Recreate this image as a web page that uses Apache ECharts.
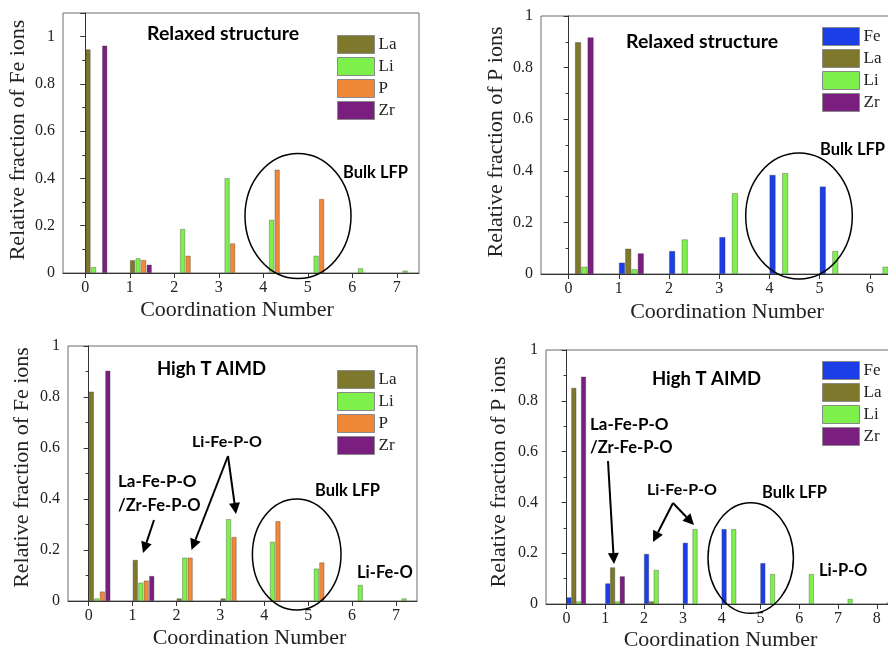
<!DOCTYPE html>
<html><head><meta charset="utf-8">
<script src="https://cdn.jsdelivr.net/npm/echarts@6/dist/echarts.min.js"></script>
<style>html,body{margin:0;padding:0;background:#fff}#c{width:888px;height:652px}</style>
</head><body><div id="c"></div>
<script>
// Coordination numbers (x categories)
const coordinationNumbers = [0, 1, 2, 3, 4, 5, 6, 7, 8];

// Panel 1: Fe ions, relaxed structure
const feRelaxLa = [0.946, 0.054, 0, 0, 0, 0, 0, 0, 0];
const feRelaxLi = [0.025, 0.062, 0.186, 0.401, 0.225, 0.073, 0.020, 0.010, 0];
const feRelaxP  = [0, 0.055, 0.073, 0.125, 0.437, 0.313, 0, 0, 0];
const feRelaxZr = [0.962, 0.035, 0, 0, 0, 0, 0, 0, 0];

// Panel 2: P ions, relaxed structure
const pRelaxFe = [0, 0.044, 0.089, 0.143, 0.384, 0.339, 0, 0, 0];
const pRelaxLa = [0.898, 0.098, 0, 0, 0, 0, 0, 0, 0];
const pRelaxLi = [0.028, 0.018, 0.134, 0.313, 0.391, 0.089, 0.028, 0, 0];
const pRelaxZr = [0.917, 0.080, 0, 0, 0, 0, 0, 0, 0];

// Panel 3: Fe ions, high T AIMD
const feAimdLa = [0.821, 0.161, 0.010, 0.010, 0, 0, 0, 0, 0];
const feAimdLi = [0.010, 0.072, 0.170, 0.321, 0.232, 0.127, 0.063, 0.010, 0];
const feAimdP  = [0.037, 0.080, 0.170, 0.251, 0.313, 0.151, 0, 0, 0];
const feAimdZr = [0.903, 0.098, 0, 0, 0, 0, 0, 0, 0];

// Panel 4: P ions, high T AIMD
const pAimdFe = [0.026, 0.081, 0.197, 0.241, 0.295, 0.161, 0, 0, 0];
const pAimdLa = [0.851, 0.144, 0.010, 0, 0, 0, 0, 0, 0];
const pAimdLi = [0.010, 0.010, 0.134, 0.295, 0.295, 0.118, 0.118, 0.020, 0.006];
const pAimdZr = [0.895, 0.109, 0, 0, 0, 0, 0, 0, 0];

const yTickValues = [0, 0.2, 0.4, 0.6, 0.8, 1];

const colors = { Fe: '#1c3ee6', La: '#7d782c', Li: '#7ef04c', P: '#f0883a', Zr: '#7a1f80' };

const panels = [
  { grid: { left: 63, top: 13, width: 356, height: 260 }, xMin: -0.5, xMax: 7.5, yMax: 1.1, barWidth: 5,
    yName: 'Relative fraction of Fe ions', yGap: 34, xGap: 26, xShift: -4, yShift: 3,
    legend: { left: 337, top: 35 },
    series: [['La', feRelaxLa], ['Li', feRelaxLi], ['P', feRelaxP], ['Zr', feRelaxZr]] },
  { grid: { left: 541, top: 16, width: 372, height: 258 }, xMin: -0.55, xMax: 6.86, yMax: 1, barWidth: 6,
    yName: 'Relative fraction of P ions', yGap: 34, xGap: 27, xShift: 0, yShift: 3,
    legend: { left: 822, top: 27 },
    series: [['Fe', pRelaxFe], ['La', pRelaxLa], ['Li', pRelaxLi], ['Zr', pRelaxZr]] },
  { grid: { left: 68, top: 346, width: 349, height: 255 }, xMin: -0.47, xMax: 7.48, yMax: 1, barWidth: 5,
    yName: 'Relative fraction of Fe ions', yGap: 35, xGap: 26, xShift: 7, yShift: 6,
    legend: { left: 337, top: 370 },
    series: [['La', feAimdLa], ['Li', feAimdLi], ['P', feAimdP], ['Zr', feAimdZr]] },
  { grid: { left: 546, top: 350, width: 349, height: 254 }, xMin: -0.53, xMax: 8.47, yMax: 1, barWidth: 5,
    yName: 'Relative fraction of P ions', yGap: 36, xGap: 25, xShift: 0, yShift: 5,
    legend: { left: 822, top: 361 },
    series: [['Fe', pAimdFe], ['La', pAimdLa], ['Li', pAimdLi], ['Zr', pAimdZr]] }
];

const serif = 'Liberation Serif';
const boldFont = 'Lato';

const grids = [], xAxes = [], yAxes = [], series = [], legends = [];
panels.forEach((p, i) => {
  grids.push(Object.assign({ show: true, borderColor: '#6a6a6a', borderWidth: 1, backgroundColor: 'transparent', containLabel: false, outerBoundsMode: 'none' }, p.grid));
  const xt = coordinationNumbers.filter(v => v >= p.xMin && v <= p.xMax);
  const xPad = p.xShift < 0 ? [0, -2 * p.xShift, 0, 0] : [0, 0, 0, 2 * p.xShift];
  xAxes.push({
    type: 'value', gridIndex: i, min: p.xMin, max: p.xMax,
    axisLine: { show: true, onZero: false, lineStyle: { color: '#333', width: 1 } },
    axisTick: { show: true, customValues: xt, length: 5, lineStyle: { color: '#333' } },
    axisLabel: { customValues: xt, fontFamily: serif, fontSize: 16, color: '#222', margin: 7 },
    splitLine: { show: false },
    name: 'Coordination Number', nameLocation: 'middle', nameGap: p.xGap,
    nameTextStyle: { fontFamily: serif, fontSize: 22, color: '#222', padding: xPad }
  });
  yAxes.push({
    type: 'value', gridIndex: i, min: 0, max: p.yMax, interval: 0.2,
    axisLine: { show: true, lineStyle: { color: '#333', width: 1 } },
    axisTick: { show: true, length: 5, lineStyle: { color: '#333' } },
    minorTick: { show: true, splitNumber: 2, length: 3, lineStyle: { color: '#333' } },
    axisLabel: { fontFamily: serif, fontSize: 16, color: '#222', margin: 8,
      formatter: v => (yTickValues.some(t => Math.abs(t - v) < 1e-6) ? String(+v.toFixed(1)) : '') },
    splitLine: { show: false }, minorSplitLine: { show: false },
    name: p.yName, nameLocation: 'middle', nameGap: p.yGap,
    nameTextStyle: { fontFamily: serif, fontSize: 22, color: '#222', padding: [0, 0, 0, 2 * p.yShift] }
  });
  const n = p.series.length;
  p.series.forEach(([name, vals], k) => {
    const off = (k + 0.5) / (2 * n);
    series.push({
      type: 'bar', name, xAxisIndex: i, yAxisIndex: i,
      barWidth: p.barWidth, barGap: '-100%',
      itemStyle: { color: colors[name], borderColor: 'rgba(50,50,50,0.55)', borderWidth: 0.6 },
      emphasis: { disabled: true },
      data: vals.map((v, j) => [coordinationNumbers[j] + off, v]).filter(d => d[1] > 0)
    });
  });
  legends.push({
    orient: 'vertical', left: p.legend.left, top: p.legend.top, padding: 0,
    itemWidth: 37, itemHeight: 18, itemGap: 3, icon: 'rect', selectedMode: false,
    data: p.series.map(s => s[0]),
    itemStyle: { borderColor: '#8a8a8a', borderWidth: 1 },
    textStyle: { fontFamily: serif, fontSize: 17, color: '#222', lineHeight: 18, padding: [0, 0, 0, -1] }
  });
});

// Annotations
const graphics = [];
function txt(x, y, text, size) {
  graphics.push({ type: 'text', z: 100, style: { x, y, text, fontFamily: boldFont, fontWeight: 'bold', fontSize: size, fill: '#000', verticalAlign: 'middle', align: 'left' } });
}
function ell(cx, cy, rx, ry) {
  graphics.push({ type: 'ellipse', z: 100, shape: { cx, cy, rx, ry }, style: { fill: 'none', stroke: '#000', lineWidth: 1.5 } });
}
function arrow(x1, y1, x2, y2) {
  const a = Math.atan2(y2 - y1, x2 - x1), L = 11, W = 5.5;
  const c = Math.cos(a), s = Math.sin(a);
  const bx = x2 - L * c, by = y2 - L * s;
  graphics.push({ type: 'line', z: 100, shape: { x1, y1, x2: bx, y2: by }, style: { stroke: '#000', lineWidth: 2 } });
  graphics.push({ type: 'polygon', z: 100, shape: { points: [[x2, y2], [bx + W * s, by - W * c], [bx - W * s, by + W * c]] }, style: { fill: '#000' } });
}
// Panel 1
txt(147, 34, 'Relaxed structure', 19.5); txt(343, 173, 'Bulk LFP', 16.5); ell(298, 216, 53, 62.5);
// Panel 2
txt(626, 42, 'Relaxed structure', 19.5); txt(820, 150, 'Bulk LFP', 16.5); ell(799, 216, 53.3, 63);
// Panel 3
txt(157, 369, 'High T AIMD', 18.5); txt(315, 491, 'Bulk LFP', 16.5); txt(357, 573, 'Li-Fe-O', 16.5);
txt(192, 442, 'Li-Fe-P-O', 16); txt(118, 482, 'La-Fe-P-O', 17); txt(118, 506, '/Zr-Fe-P-O', 16.5);
ell(296.7, 554.5, 44.3, 55.5);
arrow(154, 520, 143, 553); arrow(228, 456, 191.5, 550); arrow(228, 456, 236, 514);
// Panel 4
txt(652, 379, 'High T AIMD', 18.5); txt(590, 425, 'La-Fe-P-O', 17); txt(590, 448, '/Zr-Fe-P-O', 16.5);
txt(647, 490, 'Li-Fe-P-O', 16); txt(762, 493, 'Bulk LFP', 16.5); txt(819, 571, 'Li-P-O', 16.5);
ell(750.7, 558, 42.7, 55.3);
arrow(608, 461, 614, 564); arrow(673, 503, 653, 542); arrow(673, 503, 694, 525);

const chart = echarts.init(document.getElementById('c'), null, { renderer: 'canvas' });
chart.setOption({
  animation: false,
  backgroundColor: '#fff',
  grid: grids, xAxis: xAxes, yAxis: yAxes, series, legend: legends, graphic: graphics
});
</script></body></html>
